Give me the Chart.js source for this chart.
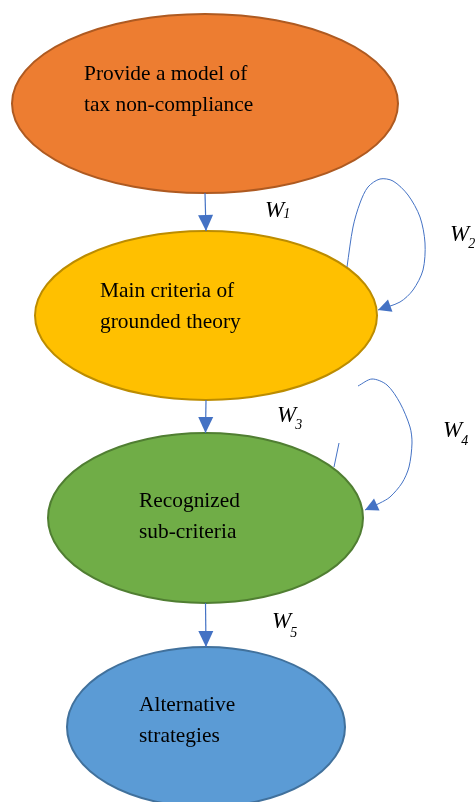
<!DOCTYPE html>
<html>
<head>
<meta charset="utf-8">
<script src="https://cdn.jsdelivr.net/npm/chart.js@4.4.1/dist/chart.umd.min.js"></script>
<style>
  html, body { margin: 0; padding: 0; background: #fff; }
  #wrap { width: 476px; height: 802px; }
</style>
</head>
<body>
<div id="wrap"><canvas id="flow" width="476" height="802"></canvas></div>
<script>
/* =========================
   DATA
========================= */
const nodeLines = [
  ["Provide a model of", "tax non-compliance"],
  ["Main criteria of", "grounded theory"],
  ["Recognized", "sub-criteria"],
  ["Alternative", "strategies"]
];
// ellipse centres and radii, in diagram units
const nodeX  = [205, 206, 205.5, 206];
const nodeY  = [103.5, 315.5, 518, 727];
const nodeRX = [193, 171, 157.5, 139];
const nodeRY = [89.5, 84.5, 85, 80];

// self loops (points along each curve)
const loopA = [[347,267],[353,227],[360,203],[368,187],[380,179],[393,181],[408,195],
               [420,217],[425,243],[423,270],[413,290],[400,302],[378,310]];
const loopB = [[358,386],[372,379],[387,385],[400,403],[410,427],[412,443],[409,467],
               [402,483],[390,497],[380,503],[365,510]];
const loopStub = [[339,443],[334,467]];

// edge weights
const weightIds = ["1", "2", "3", "4", "5"];
const weightX = [265, 450, 277, 443, 272];
const weightY = [217, 241, 422, 437, 628];

/* =========================
   STYLE
========================= */
const fills   = ["#ED7D31", "#FFC000", "#70AD47", "#5B9BD5"];
const strokes = ["#AE5A21", "#BC8C00", "#507E32", "#41719C"];
const textDX  = [-121, -106, -66.5, -67];
const textDY  = [-23.5, -18.5, -11, -16];
const subDrop = [1, 7, 7, 8, 9];
const ARROW = "#4472C4";
const SERIF = "'Liberation Serif', 'Times New Roman', serif";

const toPts = arr => arr.map(p => ({ x: p[0], y: p[1] }));

const datasets = [];
// straight edges from bottom of one node to top of the next
for (let i = 0; i < nodeX.length - 1; i++) {
  datasets.push({
    data: [
      { x: nodeX[i], y: nodeY[i] + nodeRY[i] },
      { x: nodeX[i + 1], y: nodeY[i + 1] - nodeRY[i + 1] }
    ],
    showLine: true, borderColor: ARROW, borderWidth: 1.2,
    pointRadius: 0, arrow: { len: 16, half: 7.5 }
  });
}
[loopA, loopB].forEach(loop => {
  datasets.push({
    data: toPts(loop), showLine: true, tension: 0.3,
    borderColor: ARROW, borderWidth: 1, pointRadius: 0,
    arrow: { len: 13, half: 6.5 }
  });
});
datasets.push({
  data: toPts(loopStub), showLine: true,
  borderColor: ARROW, borderWidth: 1, pointRadius: 0
});

/* =========================
   PLUGINS
========================= */
const ellipsePlugin = {
  id: "ellipses",
  beforeDatasetsDraw(chart) {
    const { ctx, scales: { x, y } } = chart;
    ctx.save();
    for (let i = 0; i < nodeX.length; i++) {
      const cx = x.getPixelForValue(nodeX[i]);
      const cy = y.getPixelForValue(nodeY[i]);
      const rx = Math.abs(x.getPixelForValue(nodeX[i] + nodeRX[i]) - cx);
      const ry = Math.abs(y.getPixelForValue(nodeY[i] + nodeRY[i]) - cy);
      ctx.beginPath();
      ctx.ellipse(cx, cy, rx, ry, 0, 0, Math.PI * 2);
      ctx.fillStyle = fills[i];
      ctx.fill();
      ctx.lineWidth = 2;
      ctx.strokeStyle = strokes[i];
      ctx.stroke();
    }
    ctx.restore();
  },
  afterDatasetsDraw(chart) {
    const { ctx, scales: { x, y } } = chart;
    ctx.save();

    // arrow heads
    chart.data.datasets.forEach((ds, di) => {
      if (!ds.arrow) return;
      const pts = chart.getDatasetMeta(di).data;
      const tip = pts[pts.length - 1], prev = pts[pts.length - 2];
      const ang = Math.atan2(tip.y - prev.y, tip.x - prev.x);
      const { len, half } = ds.arrow;
      const bx = tip.x - Math.cos(ang) * len, by = tip.y - Math.sin(ang) * len;
      ctx.beginPath();
      ctx.moveTo(tip.x, tip.y);
      ctx.lineTo(bx + Math.sin(ang) * half, by - Math.cos(ang) * half);
      ctx.lineTo(bx - Math.sin(ang) * half, by + Math.cos(ang) * half);
      ctx.closePath();
      ctx.fillStyle = ARROW;
      ctx.fill();
    });

    // node texts
    ctx.fillStyle = "#000";
    ctx.font = "21.4px " + SERIF;
    ctx.textAlign = "left";
    ctx.textBaseline = "alphabetic";
    nodeLines.forEach((lines, i) => {
      const tx = x.getPixelForValue(nodeX[i] + textDX[i]);
      lines.forEach((ln, k) => {
        ctx.fillText(ln, tx, y.getPixelForValue(nodeY[i] + textDY[i] + k * 31));
      });
    });

    // weight labels
    weightIds.forEach((id, i) => {
      const wx = x.getPixelForValue(weightX[i]);
      const wy = y.getPixelForValue(weightY[i]);
      ctx.font = "italic 23px " + SERIF;
      ctx.fillText("W", wx, wy);
      const w = ctx.measureText("W").width;
      ctx.font = "italic 14px " + SERIF;
      ctx.fillText(id, wx + w - 1, wy + subDrop[i]);
    });
    ctx.restore();
  }
};

/* =========================
   CHART
========================= */
new Chart(document.getElementById("flow"), {
  type: "scatter",
  data: { datasets },
  options: {
    responsive: false,
    animation: false,
    layout: { padding: 0 },
    scales: {
      x: { type: "linear", min: 0, max: 476, display: false },
      y: { type: "linear", min: 0, max: 802, reverse: true, display: false }
    },
    plugins: { legend: { display: false }, tooltip: { enabled: false } }
  },
  plugins: [ellipsePlugin]
});
</script>
</body>
</html>
